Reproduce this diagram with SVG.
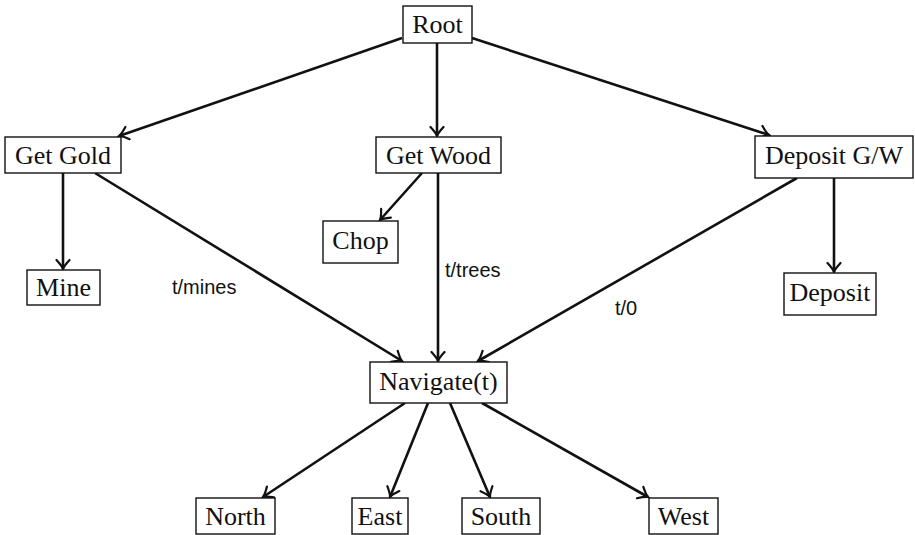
<svg xmlns="http://www.w3.org/2000/svg" width="915" height="535" viewBox="0 0 915 535">
  <style>
    .box { fill: #ffffff; stroke: #111111; stroke-width: 1.4; }
    .lbl { font-family: "Liberation Serif", "Times New Roman", serif; font-size: 26px; fill: #111111; text-anchor: middle; }
    .edge { fill: none; stroke: #111111; stroke-width: 2.6; marker-end: url(#arrow); }
    .elbl { font-family: "Liberation Sans", Arial, sans-serif; font-size: 20px; fill: #111111; }
  </style>
  <defs>
    <!-- open curved arrowhead -->
    <marker id="arrow" viewBox="-11 -8 13 16" markerWidth="13" markerHeight="16" refX="0" refY="0" orient="auto" markerUnits="userSpaceOnUse">
      <path d="M -9 -6.5 Q -3 -1 0 0 Q -3 1 -9 6.5" fill="none" stroke="#111111" stroke-width="2.2" stroke-linecap="round"/>
    </marker>
  </defs>

  <g id="connectors">
    <line class="edge" x1="402" y1="38" x2="119" y2="136"/>
    <line class="edge" x1="437" y1="43" x2="437" y2="136"/>
    <line class="edge" x1="472" y1="38" x2="769" y2="135"/>
    <line class="edge" x1="63" y1="173" x2="63" y2="269"/>
    <line class="edge" x1="95" y1="173" x2="402" y2="361"/>
    <line class="edge" x1="422" y1="173" x2="380" y2="220"/>
    <line class="edge" x1="438" y1="173" x2="438" y2="361"/>
    <line class="edge" x1="797" y1="178" x2="478" y2="361"/>
    <line class="edge" x1="834" y1="178" x2="834" y2="272"/>
    <line class="edge" x1="405" y1="403" x2="263" y2="497"/>
    <line class="edge" x1="428" y1="403" x2="390" y2="497"/>
    <line class="edge" x1="450" y1="403" x2="490" y2="497"/>
    <line class="edge" x1="482" y1="403" x2="648" y2="497"/>
    <text class="elbl" x="172" y="294">t/mines</text>
    <text class="elbl" x="445" y="277">t/trees</text>
    <text class="elbl" x="615" y="315">t/0</text>
  </g>

  <g id="root"><rect class="box" x="403" y="6" width="69" height="37"/><text class="lbl" x="437.5" y="33">Root</text></g>
  <g id="get-gold"><rect class="box" x="5" y="137" width="116" height="36"/><text class="lbl" x="63" y="164">Get Gold</text></g>
  <g id="get-wood"><rect class="box" x="376" y="137" width="125" height="36"/><text class="lbl" x="438.5" y="164">Get Wood</text></g>
  <g id="deposit-gw"><rect class="box" x="755" y="136" width="158" height="42"/><text class="lbl" x="834" y="164">Deposit G/W</text></g>
  <g id="mine"><rect class="box" x="27" y="270" width="73" height="35"/><text class="lbl" x="63.5" y="296">Mine</text></g>
  <g id="chop"><rect class="box" x="323" y="221" width="75" height="42"/><text class="lbl" x="360.5" y="249">Chop</text></g>
  <g id="deposit"><rect class="box" x="784" y="273" width="92" height="42"/><text class="lbl" x="830" y="301">Deposit</text></g>
  <g id="navigate"><rect class="box" x="370" y="362" width="137" height="41"/><text class="lbl" x="438.5" y="390">Navigate(t)</text></g>
  <g id="north"><rect class="box" x="196" y="498" width="79" height="36"/><text class="lbl" x="235.5" y="525">North</text></g>
  <g id="east"><rect class="box" x="352" y="498" width="56" height="36"/><text class="lbl" x="380" y="525">East</text></g>
  <g id="south"><rect class="box" x="462" y="498" width="78" height="36"/><text class="lbl" x="501" y="525">South</text></g>
  <g id="west"><rect class="box" x="649" y="498" width="69" height="36"/><text class="lbl" x="683.5" y="525">West</text></g>
</svg>
